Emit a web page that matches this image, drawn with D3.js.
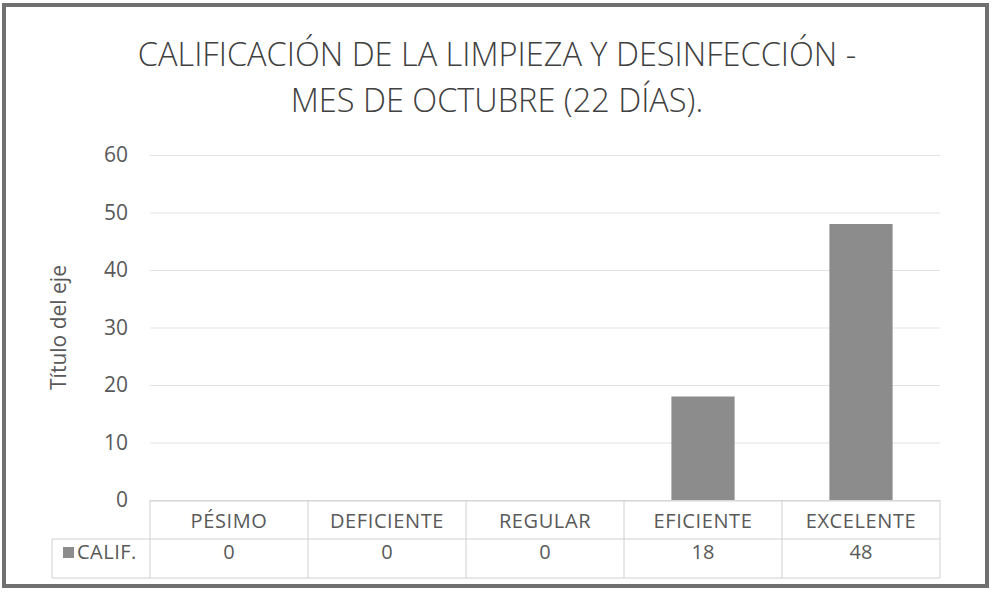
<!DOCTYPE html>
<html lang="es">
<head>
<meta charset="utf-8">
<title>Calificación de la limpieza</title>
<script src="https://cdn.jsdelivr.net/npm/d3@7"></script>
<style>
  body { margin: 0; background: #fff; }
  svg text { font-family: "Open Sans", "Noto Sans", sans-serif; fill: #595959; }
</style>
</head>
<body>
<div id="viz"></div>
<script>
const W = 993, H = 594;

// data
const categories = ["PÉSIMO", "DEFICIENTE", "REGULAR", "EFICIENTE", "EXCELENTE"];
const values = [0, 0, 0, 18, 48];
const seriesName = "CALIF.";
const yTicks = [0, 10, 20, 30, 40, 50, 60];
const titleLines = ["CALIFICACIÓN DE LA LIMPIEZA Y DESINFECCIÓN -", "MES DE OCTUBRE (22 DÍAS)."];
const yTitle = "Título del eje";

const plot = {left: 150, right: 940, top: 155, bottom: 500};
const table = {left: 52, mid: 539, bottom: 578};

const svg = d3.select("#viz").append("svg")
  .attr("width", W).attr("height", H);

// outer frame (scanned border)
svg.append("rect")
  .attr("x", 4).attr("y", 5).attr("width", W - 10).attr("height", H - 13)
  .attr("fill", "#fff").attr("stroke", "#707070").attr("stroke-width", 4);

// title
svg.selectAll("text.title").data(titleLines).enter().append("text")
  .attr("class", "title")
  .attr("x", 497).attr("y", (d, i) => 66 + i * 46)
  .attr("text-anchor", "middle")
  .attr("font-size", 32.5).attr("font-weight", 300)
  .style("fill", "#404040")
  .text(d => d);

const x = d3.scaleBand().domain(categories).range([plot.left, plot.right]).paddingInner(0.6).paddingOuter(0.3);
const xCell = d3.scaleBand().domain(categories).range([plot.left, plot.right]);
const y = d3.scaleLinear().domain([0, 60]).range([plot.bottom, plot.top]);

// gridlines + y labels
const yAxis = d3.axisLeft(y).tickValues(yTicks).tickSize(-(plot.right - plot.left)).tickPadding(22);
const gy = svg.append("g").attr("transform", `translate(${plot.left},0)`).call(yAxis);
gy.select(".domain").remove();
gy.selectAll(".tick line").attr("stroke", "#e2e2e2");
gy.selectAll(".tick text").attr("font-size", 21).attr("font-family", null).style("fill", "#595959");

// y axis title
svg.append("text")
  .attr("transform", `translate(66,${(plot.top + plot.bottom) / 2}) rotate(-90)`)
  .attr("text-anchor", "middle").attr("font-size", 21)
  .text(yTitle);

// bars
svg.selectAll("rect.bar").data(values).enter().append("rect")
  .attr("class", "bar")
  .attr("x", (d, i) => x(categories[i]))
  .attr("width", x.bandwidth())
  .attr("y", d => y(d))
  .attr("height", d => y(0) - y(d))
  .attr("fill", "#8c8c8c");

// data table lines
const tl = svg.append("g").attr("stroke", "#d0d0d0").attr("stroke-width", 1);
tl.append("line").attr("x1", plot.left).attr("x2", plot.right).attr("y1", plot.bottom + 1).attr("y2", plot.bottom + 1);
tl.append("line").attr("x1", table.left).attr("x2", plot.right).attr("y1", table.mid).attr("y2", table.mid);
tl.append("line").attr("x1", table.left).attr("x2", plot.right).attr("y1", table.bottom).attr("y2", table.bottom);
tl.append("line").attr("x1", table.left).attr("x2", table.left).attr("y1", table.mid).attr("y2", table.bottom);
tl.selectAll("line.v").data(categories.concat(["end"])).enter().append("line")
  .attr("class", "v")
  .attr("x1", (d, i) => plot.left + i * xCell.bandwidth())
  .attr("x2", (d, i) => plot.left + i * xCell.bandwidth())
  .attr("y1", plot.bottom).attr("y2", table.bottom);

// category labels
svg.selectAll("text.cat").data(categories).enter().append("text")
  .attr("class", "cat")
  .attr("x", d => xCell(d) + xCell.bandwidth() / 2)
  .attr("y", 528).attr("text-anchor", "middle").attr("font-size", 20)
  .attr("letter-spacing", 0.6)
  .text(d => d);

// value row
svg.selectAll("text.val").data(values).enter().append("text")
  .attr("class", "val")
  .attr("x", (d, i) => xCell(categories[i]) + xCell.bandwidth() / 2)
  .attr("y", 559).attr("text-anchor", "middle").attr("font-size", 20)
  .text(d => d);

// legend key in table
svg.append("rect").attr("x", 63).attr("y", 547).attr("width", 11).attr("height", 11).attr("fill", "#8c8c8c");
svg.append("text").attr("x", 77).attr("y", 559).attr("font-size", 20).attr("letter-spacing", 0.5).text(seriesName);
</script>
</body>
</html>
